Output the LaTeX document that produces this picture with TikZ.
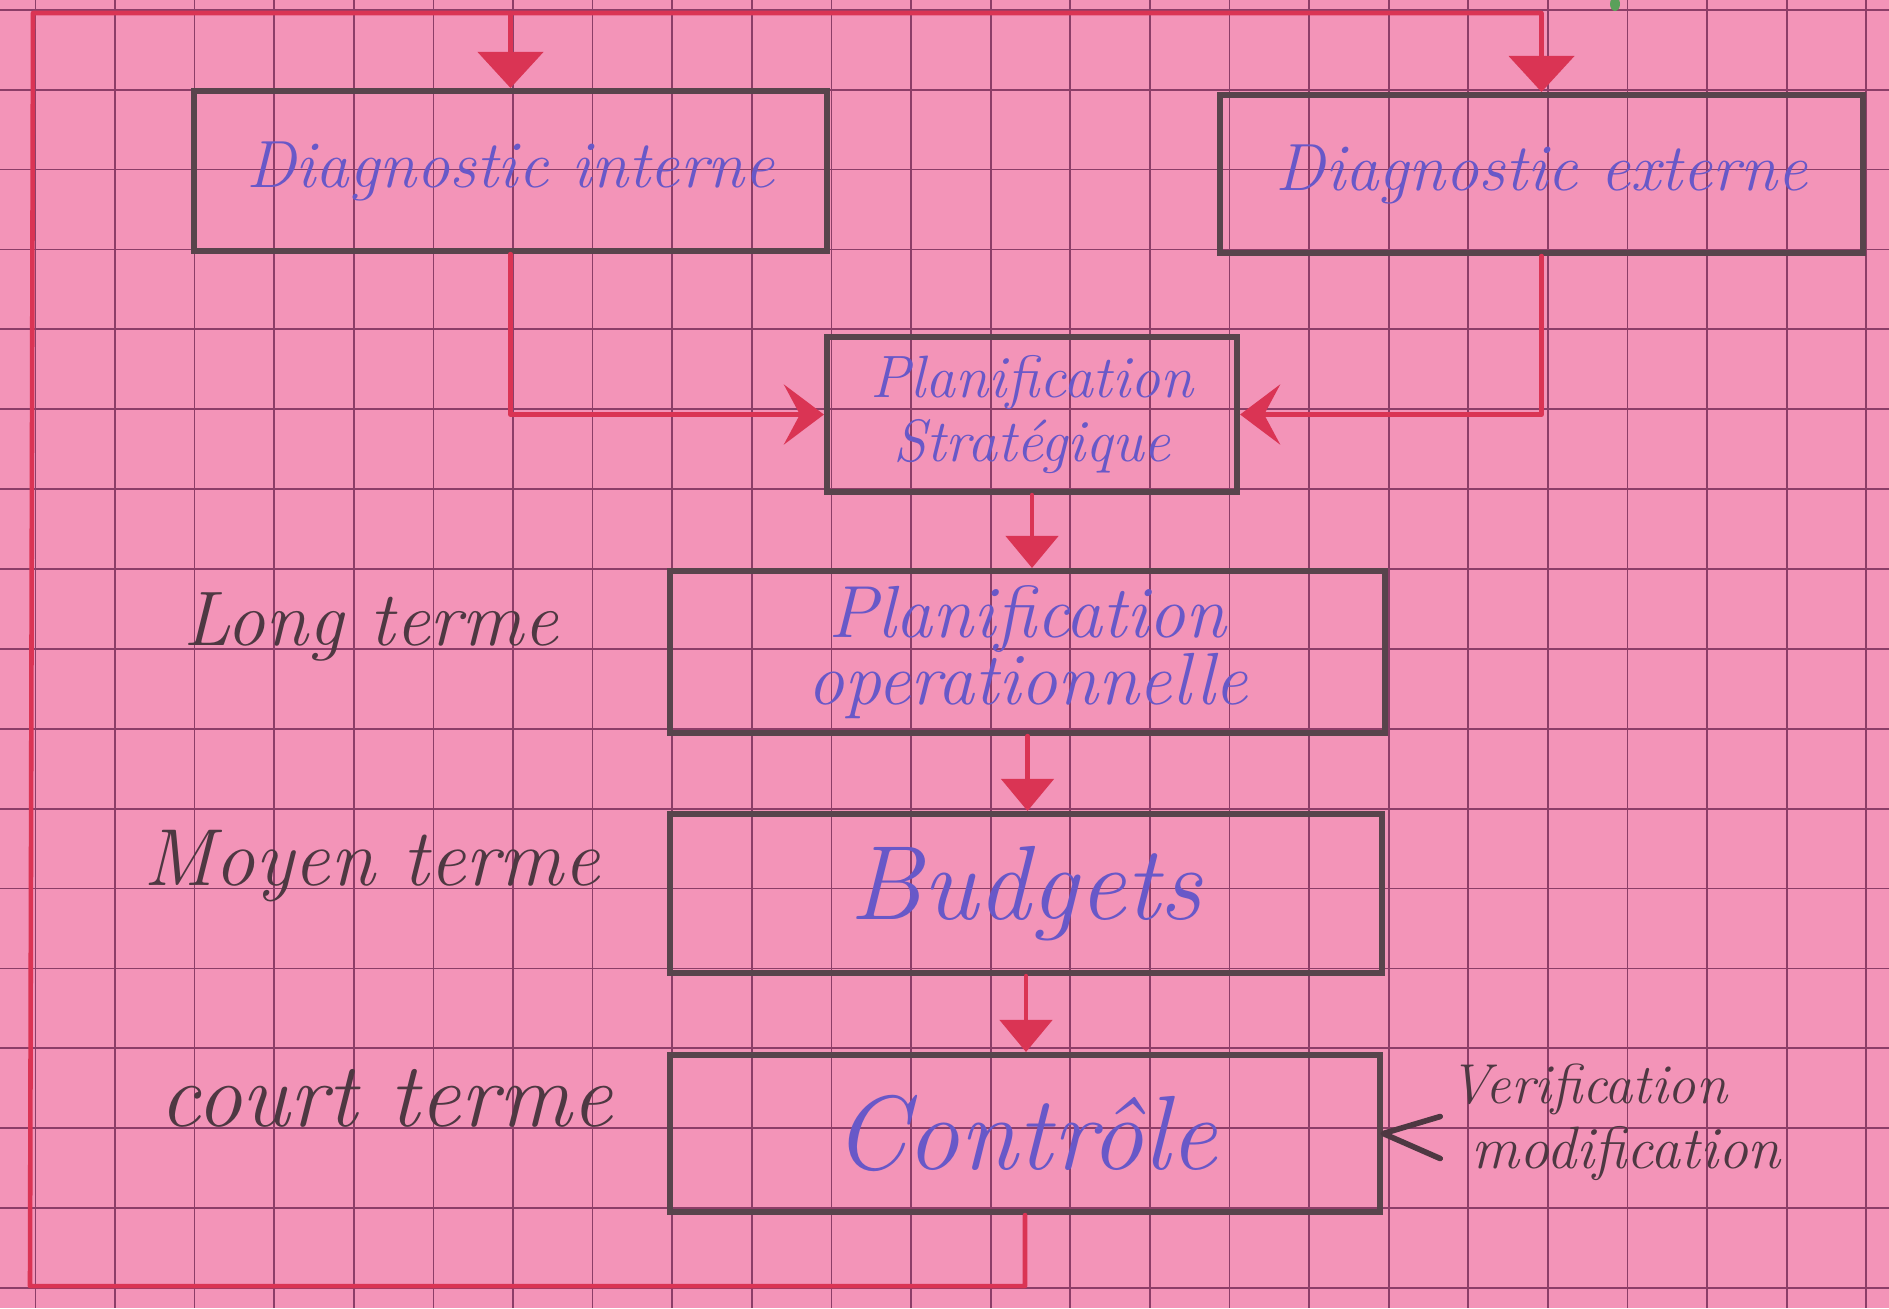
\documentclass[tikz,border=0pt]{standalone}
\usepackage{fontspec}
\usetikzlibrary{arrows.meta,calc}
\definecolor{paper}{RGB}{243,148,184}
\definecolor{gridc}{RGB}{140,62,104}
\definecolor{redl}{RGB}{218,52,84}
\definecolor{boxc}{RGB}{88,68,76}
\definecolor{ink}{RGB}{104,88,200}
\definecolor{pencil}{RGB}{78,56,66}
\definecolor{greenmark}{RGB}{90,160,90}
\tikzset{
  gridline/.style={draw=gridc, line width=0.5pt},
  redline/.style={draw=redl, line width=1.3pt, line cap=round, line join=round},
  bigtip/.style={-{Triangle[width=6.5mm,length=3.6mm]}},
  midtip/.style={-{Triangle[width=5.2mm,length=3.2mm]}},
  sidetip/.style={-{Stealth[width=6mm,length=4mm,inset=1.6mm]}},
  box/.style={draw=boxc, line width=1.7pt, rectangle, inner sep=0pt, text=ink, align=center},
  term/.style={text=pencil, anchor=base},
  pencilline/.style={draw=pencil, line width=1.6pt, line cap=round, line join=round},
}
\begin{document}
\begin{tikzpicture}[x=0.01cm,y=-0.01cm]
\useasboundingbox (0,0) rectangle (1889,1308);
\fill[paper] (0,0) rectangle (1889,1308);
% grid paper
\foreach \i in {0,...,23} \draw[gridline] ({35.4+79.6*\i},0) -- ({35.4+79.6*\i},1308);
\foreach \j in {0,...,16} \draw[gridline] (0,{9.8+79.88*\j}) -- (1889,{9.8+79.88*\j});
\fill[greenmark] (1615,4) ellipse (5 and 7);

% boxes
\node[box, minimum width=6.33cm, minimum height=1.60cm,
      font={\itshape\fontsize{19}{22}\selectfont}] (DI) at (510.5,171) {Diagnostic interne};
\node[box, minimum width=6.43cm, minimum height=1.58cm,
      font={\itshape\fontsize{19}{22}\selectfont}] (DE) at (1541.5,174) {Diagnostic externe};
\node[box, minimum width=4.10cm, minimum height=1.55cm,
      font={\itshape\fontsize{17}{18}\selectfont}] (ST) at (1032,414.5) {Planification\\ Stratégique};
\node[box, minimum width=7.15cm, minimum height=1.62cm,
      font={\itshape\fontsize{21}{19}\selectfont}] (OP) at (1027.5,652) {Planification\\ operationnelle};
\node[box, minimum width=7.12cm, minimum height=1.59cm,
      font={\itshape\fontsize{30}{34}\selectfont\addfontfeatures{LetterSpace=5}}] (BU) at (1026,893.5) {Budgets};
\node[box, minimum width=7.10cm, minimum height=1.57cm,
      font={\itshape\fontsize{30}{34}\selectfont\addfontfeatures{LetterSpace=4}}] (CT) at (1025,1133.5) {Contrôle};

% side labels
\node[term, font={\itshape\fontsize{22}{26}\selectfont}] (LT) at (371,645) {Long terme};
\node[term, font={\itshape\fontsize{23}{26}\selectfont}] (MT) at (372,885) {Moyen terme};
\node[term, font={\itshape\fontsize{26}{28}\selectfont}] (CTL) at (386,1126) {court terme};
\node[term, font={\itshape\fontsize{16}{18}\selectfont}] (VE) at (1588,1103) {Verification};
\node[term, font={\itshape\fontsize{17}{18}\selectfont}] (MO) at (1626,1168) {modification};

% "<" mark pointing at Contrôle
\draw[pencilline] ($(CT.east)+(57,-17)$) -- (CT.east) -- ($(CT.east)+(57,25)$);

% feedback loop
\coordinate (bl) at (30,1286);
\coordinate (tl) at (33,13);
\draw[redline, bigtip] (CT.south) |- (bl) -- (tl) -- (tl -| DE.north) -- (DE.north);
\draw[redline, bigtip] (tl -| DI.north) -- (DI.north);

% diagnostics to strategic planning
\draw[redline, sidetip] (DI.south) |- (ST.west);
\draw[redline, sidetip] (DE.south) |- (ST.east);

% downward chain
\draw[redline, midtip] (ST.south) -- (ST.south |- OP.north);
\draw[redline, midtip] (OP.south) -- (OP.south |- BU.north);
\draw[redline, midtip] (BU.south) -- (BU.south |- CT.north);
\end{tikzpicture}
\end{document}
